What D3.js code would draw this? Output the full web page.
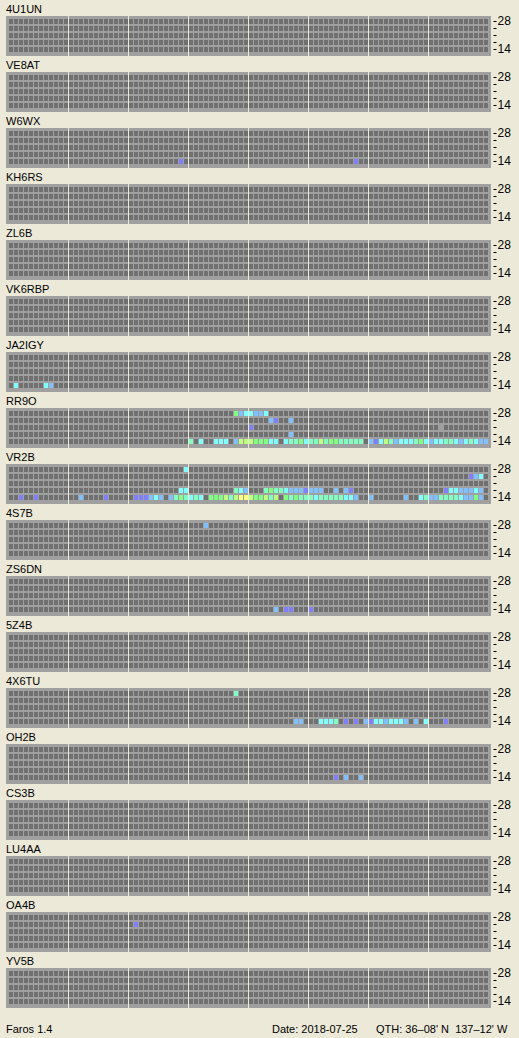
<!DOCTYPE html>
<html>
<head>
<meta charset="utf-8">
<script src="https://cdn.jsdelivr.net/npm/d3@7"></script>
<style>
    body { margin: 0; background: #ece9d8; }
    svg { display: block; font-family: "Liberation Sans", Arial, sans-serif; font-size: 11px; }
</style>
</head>
<body>
<svg id="chart" width="519" height="1038"></svg>
<script>
    // beacon stations, top to bottom
    var stations = ["4U1UN", "VE8AT", "W6WX", "KH6RS", "ZL6B", "VK6RBP", "JA2IGY", "RR9O", "VR2B",
        "4S7B", "ZS6DN", "5Z4B", "4X6TU", "OH2B", "CS3B", "LU4AA", "OA4B", "YV5B"];
    var bands = [28, 24, 21, 18, 14];
    var slotCount = 96;       // 15 minute slots over the day
    var hourMarks = [12, 24, 36, 48, 60, 72, 84];
    var bandLabels = {28: "28", 14: "14"};

    // signal level -> colour, 0 = heard but unreadable
    var levelColors = ["#a0a0a0", "#8080ff", "#80c0ff", "#80ffff", "#80ffc0", "#80ff80", "#c0ff80", "#ffff80"];

    // spots: [slot, band, level]
    var spotsW6WX = [[34, 14, 1], [69, 14, 1]];
    var spotsJA2IGY = [[1, 14, 3], [7, 14, 3], [8, 14, 2]];
    var spotsRR9O = [
        [45, 28, 5], [46, 28, 2], [47, 28, 3], [48, 28, 3], [49, 28, 2], [50, 28, 2], [51, 28, 3],
        [52, 24, 2], [53, 24, 1], [56, 24, 2],
        [48, 21, 1], [86, 21, 0],
        [56, 18, 2],
        [36, 14, 4], [38, 14, 3], [41, 14, 3], [42, 14, 3], [43, 14, 3], [45, 14, 2], [46, 14, 6],
        [47, 14, 6], [48, 14, 6], [49, 14, 5], [50, 14, 5], [51, 14, 5], [52, 14, 3], [53, 14, 3],
        [55, 14, 3], [56, 14, 4], [57, 14, 4], [58, 14, 5], [59, 14, 3], [60, 14, 4], [61, 14, 4],
        [62, 14, 6], [63, 14, 4], [64, 14, 5], [65, 14, 5], [66, 14, 4], [67, 14, 4], [68, 14, 4],
        [69, 14, 4], [70, 14, 4], [72, 14, 2], [73, 14, 1], [74, 14, 3], [75, 14, 6], [76, 14, 4],
        [77, 14, 2], [78, 14, 3], [79, 14, 3], [80, 14, 3], [81, 14, 4], [82, 14, 5], [83, 14, 3],
        [84, 14, 2], [85, 14, 3], [86, 14, 3], [87, 14, 4], [88, 14, 4], [89, 14, 3], [90, 14, 2],
        [91, 14, 3], [92, 14, 4], [93, 14, 3], [94, 14, 2], [95, 14, 2]];
    var spotsVR2B = [
        [35, 28, 3],
        [92, 24, 1], [93, 24, 2], [94, 24, 3],
        [34, 18, 3], [35, 18, 3], [45, 18, 4], [46, 18, 3], [47, 18, 2], [51, 18, 4], [52, 18, 5],
        [53, 18, 4], [54, 18, 4], [55, 18, 3], [56, 18, 2], [57, 18, 2], [58, 18, 2], [59, 18, 1],
        [60, 18, 2], [61, 18, 2], [62, 18, 2], [65, 18, 2], [67, 18, 2], [68, 18, 1], [87, 18, 1],
        [88, 18, 3], [89, 18, 3], [90, 18, 2], [91, 18, 2], [92, 18, 2], [93, 18, 3], [94, 18, 2],
        [2, 14, 1], [5, 14, 1], [14, 14, 2], [19, 14, 1], [25, 14, 1], [26, 14, 1], [27, 14, 1],
        [28, 14, 2], [29, 14, 3], [30, 14, 2], [32, 14, 2], [33, 14, 4], [34, 14, 5], [35, 14, 4],
        [36, 14, 3], [37, 14, 4], [38, 14, 3], [40, 14, 5], [41, 14, 5], [42, 14, 5], [43, 14, 6],
        [44, 14, 4], [45, 14, 6], [46, 14, 7], [47, 14, 7], [48, 14, 6], [49, 14, 5], [50, 14, 5],
        [51, 14, 6], [52, 14, 4], [53, 14, 6], [55, 14, 5], [56, 14, 4], [57, 14, 5], [58, 14, 4],
        [59, 14, 4], [60, 14, 4], [61, 14, 3], [62, 14, 4], [63, 14, 4], [64, 14, 4], [65, 14, 4],
        [66, 14, 4], [67, 14, 3], [68, 14, 3], [69, 14, 2], [72, 14, 2], [79, 14, 2], [82, 14, 3],
        [83, 14, 4], [84, 14, 2], [85, 14, 2], [86, 14, 4], [87, 14, 4], [88, 14, 4], [89, 14, 4],
        [90, 14, 3], [91, 14, 2], [92, 14, 2], [93, 14, 5], [94, 14, 2]];
    var spots4S7B = [[39, 28, 2]];
    var spotsZS6DN = [[53, 14, 2], [55, 14, 1], [56, 14, 1], [60, 14, 1]];
    var spots4X6TU = [
        [45, 28, 4],
        [57, 14, 2], [58, 14, 2], [62, 14, 3], [63, 14, 3], [64, 14, 3], [65, 14, 4], [67, 14, 1],
        [69, 14, 1], [71, 14, 2], [72, 14, 1], [73, 14, 3], [74, 14, 3], [75, 14, 2], [76, 14, 3],
        [77, 14, 3], [78, 14, 3], [79, 14, 2], [81, 14, 2], [83, 14, 3], [87, 14, 1]];
    var spotsOH2B = [[65, 14, 1], [67, 14, 2], [70, 14, 2]];
    var spotsOA4B = [[25, 24, 1]];

    var spots = {
        "W6WX": spotsW6WX, "JA2IGY": spotsJA2IGY, "RR9O": spotsRR9O, "VR2B": spotsVR2B,
        "4S7B": spots4S7B, "ZS6DN": spotsZS6DN, "4X6TU": spots4X6TU, "OH2B": spotsOH2B, "OA4B": spotsOA4B
    };

    var panelStep = 56, boxTop = 16, boxH = 40, boxLeft = 6, boxRight = 491;

    var x = d3.scaleBand()
        .domain(d3.range(slotCount))
        .range([9, 488])
        .paddingInner(0.2)
        .paddingOuter(0);

    var y = d3.scaleBand()
        .domain(bands)
        .range([3, 36])
        .paddingInner(2 / 7)
        .paddingOuter(0);

    var color = d3.scaleOrdinal()
        .domain(d3.range(levelColors.length))
        .range(levelColors);

    var svg = d3.select("#chart");

    var panel = svg.selectAll("g.panel")
        .data(stations)
        .enter().append("g")
        .attr("class", "panel")
        .attr("transform", (d, i) => "translate(0," + (boxTop + i * panelStep) + ")");

    panel.append("text")
        .attr("x", boxLeft)
        .attr("y", -3.5)
        .attr("fill", "#000")
        .text((d) => d);

    panel.append("rect")
        .attr("x", boxLeft)
        .attr("y", 0)
        .attr("width", boxRight - boxLeft)
        .attr("height", boxH)
        .attr("fill", "#a0a0a0");

    // empty grid
    var grid = [];
    bands.forEach((b) => x.domain().forEach((s) => grid.push([s, b])));

    panel.selectAll("rect.cell")
        .data(grid)
        .enter().append("rect")
        .attr("class", "cell")
        .attr("x", (d) => x(d[0]))
        .attr("y", (d) => y(d[1]))
        .attr("width", x.bandwidth())
        .attr("height", y.bandwidth())
        .attr("fill", "#707070");

    // heard beacons
    panel.selectAll("rect.spot")
        .data((d) => spots[d] || [])
        .enter().append("rect")
        .attr("class", "spot")
        .attr("x", (d) => x(d[0]))
        .attr("y", (d) => y(d[1]))
        .attr("width", x.bandwidth())
        .attr("height", y.bandwidth())
        .attr("fill", (d) => color(d[2]));

    // 3 hour dividers
    panel.selectAll("rect.hour")
        .data(hourMarks)
        .enter().append("rect")
        .attr("class", "hour")
        .attr("x", (d) => x(d) - 1)
        .attr("y", 0)
        .attr("width", 1)
        .attr("height", boxH)
        .attr("fill", "#ece9d8");

    var axis = d3.axisRight(y)
        .tickSize(3)
        .tickPadding(1)
        .tickFormat((d) => bandLabels[d] || "");

    panel.append("g")
        .attr("class", "axis")
        .attr("transform", "translate(493.5,0)")
        .call(axis)
        .call((g) => g.select(".domain").remove())
        .call((g) => g.selectAll("text")
            .attr("font-family", "Liberation Sans, Arial, sans-serif")
            .attr("font-size", 12)
            .attr("fill", "#000"))
        .call((g) => g.selectAll("line").attr("stroke", "#000"));

    // footer
    var footer = svg.append("g").attr("class", "footer");
    footer.append("text").attr("x", 6).attr("y", 1033).text("Faros 1.4");
    footer.append("text").attr("x", 272).attr("y", 1033).text("Date: 2018-07-25");
    footer.append("text").attr("x", 376).attr("y", 1033)
        .style("white-space", "pre")
        .text("QTH: 36\u201308' N  137\u201312' W");
</script>
</body>
</html>
